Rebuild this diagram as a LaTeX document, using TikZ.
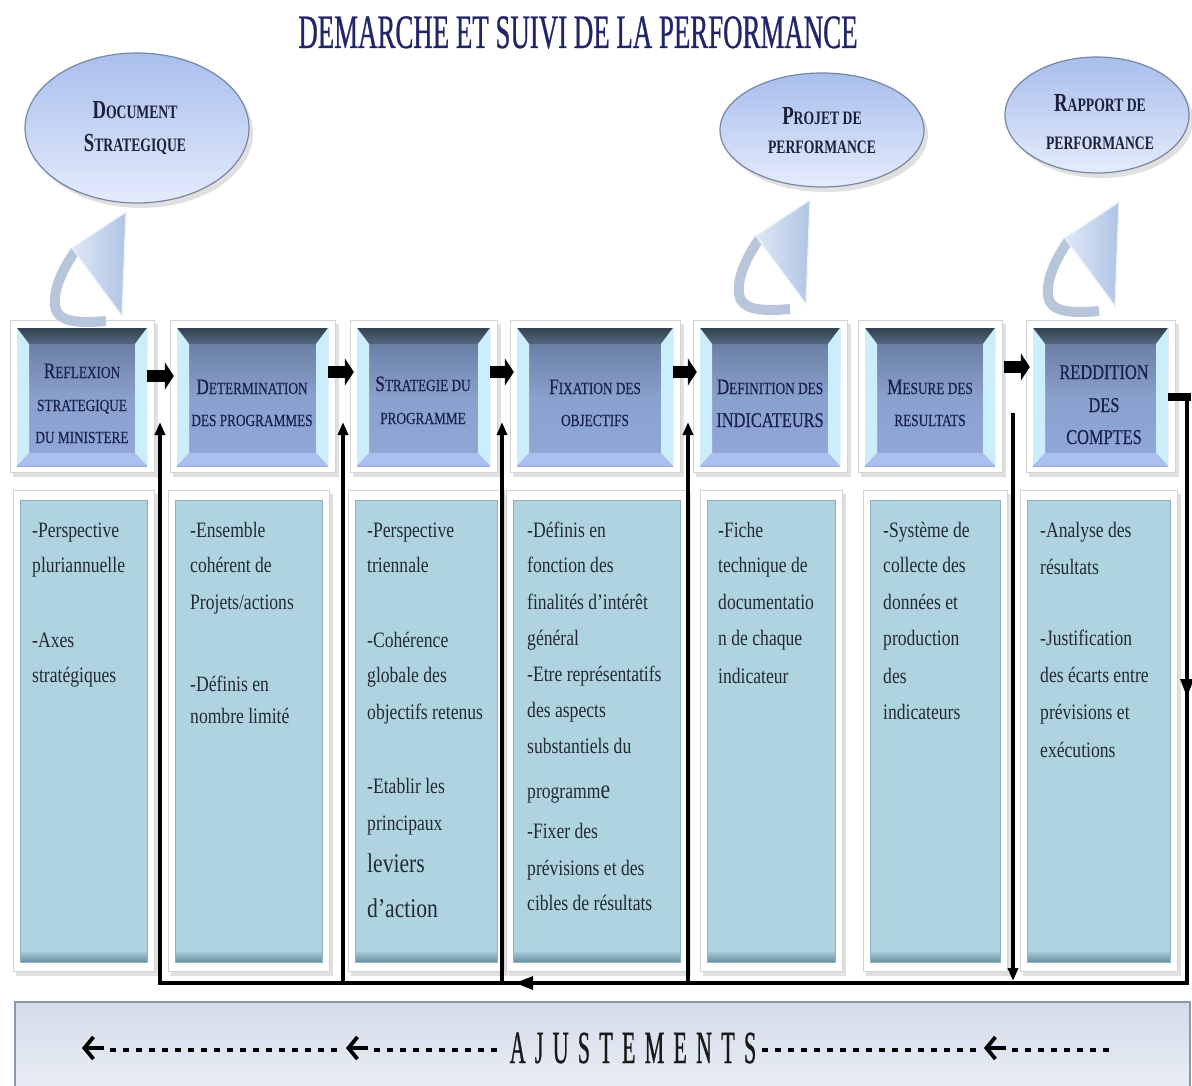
\documentclass[tikz,border=0pt]{standalone}
\usepackage{fontspec}
\setmainfont{Liberation Serif}
\newfontfamily\titlefont[FakeStretch=0.56,FakeBold=0.6]{Liberation Serif}
\newfontfamily\hdfont[FakeStretch=0.78,FakeBold=0.3]{Liberation Serif}
\newfontfamily\elfont[FakeStretch=0.72]{Liberation Serif}
\newfontfamily\bodyfont[FakeStretch=0.8]{Liberation Serif}
\newfontfamily\ajfont[FakeStretch=0.48,LetterSpace=20,FakeBold=0.6]{Liberation Serif}
\usetikzlibrary{arrows.meta,shapes.geometric}

\definecolor{titlec}{RGB}{34,38,104}
\definecolor{hdtext}{RGB}{24,32,76}
\definecolor{eltext}{RGB}{28,32,56}
\definecolor{bodytext}{RGB}{34,42,52}
\definecolor{elTop}{RGB}{168,190,236}
\definecolor{elBot}{RGB}{228,235,252}
\definecolor{elEdge}{RGB}{120,134,165}
\definecolor{tailL}{RGB}{222,232,246}
\definecolor{tailR}{RGB}{176,196,228}
\definecolor{tailEdge}{RGB}{236,242,250}
\definecolor{ribbonc}{RGB}{184,198,220}
\definecolor{hbTopA}{RGB}{52,66,80}
\definecolor{hbTopB}{RGB}{84,104,128}
\definecolor{hfTop}{RGB}{98,118,152}
\definecolor{hfMid}{RGB}{138,160,205}
\definecolor{hfBot}{RGB}{146,168,216}
\definecolor{hside}{RGB}{204,238,250}
\definecolor{hbot}{RGB}{172,192,240}
\definecolor{bodyc}{RGB}{176,212,223}
\definecolor{bodyd}{RGB}{104,144,160}
\definecolor{bodyedge}{RGB}{140,178,192}
\definecolor{framec}{RGB}{212,212,212}
\definecolor{shadowc}{RGB}{224,224,224}
\definecolor{bandTop}{RGB}{212,220,233}
\definecolor{bandBot}{RGB}{236,240,247}
\definecolor{bandEdge}{RGB}{138,152,172}

% small-caps look built from two sizes
\newcommand\hcap[1]{{\fontsize{22}{22}\selectfont #1}}
\newcommand\hbig[1]{{\fontsize{21}{21}\selectfont #1}}
\newcommand\hsm[1]{{\fontsize{17}{17}\selectfont #1}}
\newcommand\ecap[1]{{\fontsize{26}{26}\selectfont #1}}
\newcommand\esm[1]{{\fontsize{19}{19}\selectfont #1}}

\tikzset{
  hdline/.style={font=\hdfont, text=hdtext, inner sep=0pt, anchor=base},
  bodyline/.style={font=\bodyfont\fontsize{22}{22}\selectfont, text=bodytext, inner sep=0pt, anchor=base west},
  elline/.style={font=\elfont\bfseries, text=eltext, inner sep=0pt, anchor=base},
  elnode/.style={ellipse, inner sep=0pt, draw=elEdge, line width=1.2pt, top color=elTop, bottom color=elBot},
  fat/.style={line width=12pt, -{Triangle[width=27pt,length=9pt]}, shorten >=3pt},
  fbline/.style={line width=3.2pt, line join=miter},
  fbtip/.style={-{Triangle[width=10pt,length=13pt]}},
  bigtip/.style={-{Triangle[width=13pt,length=18pt]}},
  ajdash/.style={line width=3.6pt, dash pattern=on 6pt off 7pt},
  ajarrow/.style={line width=3.8pt, -{Straight Barb[length=9pt,width=22pt]}},
}

% header box with bevelled face: name, left x, right x
\newcommand\headbox[3]{%
  \fill[shadowc] (#2-4,324) rectangle (#3+11,477);
  \fill[white] (#2-7,320) rectangle (#3+7,472);
  \draw[framec, line width=0.8pt] (#2-7,320) rectangle (#3+7,472);
  \shade[top color=hfTop, bottom color=hfBot, middle color=hfMid] (#2,328) rectangle (#3,466);
  \shade[top color=hbTopA, bottom color=hbTopB] (#2,328) -- (#3,328) -- (#3-12,344) -- (#2+12,344) -- cycle;
  \fill[hside] (#2,328) -- (#2+12,344) -- (#2+12,453) -- (#2,466) -- cycle;
  \fill[hside] (#3,328) -- (#3-12,344) -- (#3-12,453) -- (#3,466) -- cycle;
  \fill[hbot] (#2,466) -- (#3,466) -- (#3-12,453) -- (#2+12,453) -- cycle;
  \node[inner sep=0pt, minimum width={#3pt-#2pt}, minimum height=138pt] (#1) at ({(#2+#3)/2},397) {};
}

% body box: name, left x, right x
\newcommand\bodybox[3]{%
  \fill[shadowc] (#2-4,494) rectangle (#3+11,976);
  \fill[white] (#2-7,490) rectangle (#3+7,971);
  \draw[framec, line width=0.8pt] (#2-7,490) rectangle (#3+7,971);
  \fill[bodyc] (#2,500) rectangle (#3,962);
  \shade[top color=bodyc, bottom color=bodyd] (#2,950) rectangle (#3,962);
  \draw[bodyedge, line width=0.8pt] (#2,500) rectangle (#3,962);
  \node[inner sep=0pt, minimum width={#3pt-#2pt}, minimum height=462pt] (#1) at ({(#2+#3)/2},731) {};
}

% curled callout tail, shifted from its base position
\newcommand\calltail[2]{%
  \begin{scope}[shift={(#1,#2)}]
    \draw[ribbonc, line width=10pt] (76,250) .. controls (60,272) and (50,298) .. (57,312)
      .. controls (63,323) and (85,323) .. (106,321);
    \shade[left color=tailL, right color=tailR, draw=tailEdge, line width=1.2pt]
      (126,212) -- (72,248) -- (122,316) -- cycle;
  \end{scope}}

\newcommand\bl[4]{\node[bodyline] (#1) at (#2,#3) {#4};}
\newcommand\hl[4]{\node[hdline] (#1) at (#2,#3) {#4};}

\begin{document}
\begin{tikzpicture}[x=1pt,y=-1pt]
\useasboundingbox (0,0) rectangle (1192,1086);
\fill[white] (0,0) rectangle (1192,1086);

% title
\node[font=\titlefont\fontsize{48}{48}\selectfont, text=titlec, inner sep=0pt, anchor=base]
  (title) at (578,48) {DEMARCHE ET SUIVI DE LA PERFORMANCE};

% callout bubbles
\fill[shadowc] (141,133) ellipse [x radius=112pt, y radius=75pt];
\node[elnode, minimum width=224pt, minimum height=150pt] (e1) at (137,128) {};
\fill[shadowc] (826,135) ellipse [x radius=102pt, y radius=57pt];
\node[elnode, minimum width=204pt, minimum height=114pt] (e2) at (822,130) {};
\fill[shadowc] (1101,120) ellipse [x radius=92pt, y radius=58pt];
\node[elnode, minimum width=184pt, minimum height=116pt] (e3) at (1097,115) {};

\node[elline] (e1a) at (135,119) {\ecap{D}\esm{OCUMENT}};
\node[elline] (e1b) at (135,152) {\ecap{S}\esm{TRATEGIQUE}};
\node[elline] (e2a) at (822,125) {\ecap{P}\esm{ROJET DE}};
\node[elline] (e2b) at (822,154) {\esm{PERFORMANCE}};
\node[elline] (e3a) at (1100,112) {\ecap{R}\esm{APPORT DE}};
\node[elline] (e3b) at (1100,150) {\esm{PERFORMANCE}};

% column boxes
\headbox{h1}{17}{147}
\headbox{h2}{177}{328}
\headbox{h3}{357}{490}
\headbox{h4}{517}{673}
\headbox{h5}{700}{840}
\headbox{h6}{865}{995}
\headbox{h7}{1033}{1168}

\bodybox{b1}{20}{147}
\bodybox{b2}{175}{322}
\bodybox{b3}{355}{497}
\bodybox{b4}{513}{680}
\bodybox{b5}{707}{835}
\bodybox{b6}{870}{1000}
\bodybox{b7}{1027}{1170}

% tails linking bubbles to their steps
\calltail{0}{0}
\calltail{684}{-12}
\calltail{993}{-10}

% header labels
\hl{h1a}{82}{378}{\hcap{R}\hsm{EFLEXION}}
\hl{h1b}{82}{411}{\hsm{STRATEGIQUE}}
\hl{h1c}{82}{443}{\hsm{DU MINISTERE}}
\hl{h2a}{252}{394}{\hcap{D}\hsm{ETERMINATION}}
\hl{h2b}{252}{426}{\hsm{DES PROGRAMMES}}
\hl{h3a}{423}{391}{\hcap{S}\hsm{TRATEGIE DU}}
\hl{h3b}{423}{424}{\hsm{PROGRAMME}}
\hl{h4a}{595}{394}{\hcap{F}\hsm{IXATION DES}}
\hl{h4b}{595}{426}{\hsm{OBJECTIFS}}
\hl{h5a}{770}{394}{\hcap{D}\hsm{EFINITION DES}}
\hl{h5b}{770}{427}{\hbig{INDICATEURS}}
\hl{h6a}{930}{394}{\hcap{M}\hsm{ESURE DES}}
\hl{h6b}{930}{426}{\hsm{RESULTATS}}
\hl{h7a}{1104}{379}{\hbig{REDDITION}}
\hl{h7b}{1104}{412}{\hbig{DES}}
\hl{h7c}{1104}{444}{\hbig{COMPTES}}

% body texts
\bl{t1a}{32}{537}{-Perspective}
\bl{t1b}{32}{572}{pluriannuelle}
\bl{t1c}{32}{647}{-Axes}
\bl{t1d}{32}{682}{stratégiques}

\bl{t2a}{190}{537}{-Ensemble}
\bl{t2b}{190}{572}{cohérent de}
\bl{t2c}{190}{609}{Projets/actions}
\bl{t2d}{190}{691}{-Définis en}
\bl{t2e}{190}{723}{nombre limité}

\bl{t3a}{367}{537}{-Perspective}
\bl{t3b}{367}{572}{triennale}
\bl{t3c}{367}{647}{-Cohérence}
\bl{t3d}{367}{682}{globale des}
\bl{t3e}{367}{719}{objectifs retenus}
\bl{t3f}{367}{793}{-Etablir les}
\bl{t3g}{367}{830}{principaux}
\bl{t3h}{367}{872}{\fontsize{27}{27}\selectfont leviers}
\bl{t3i}{367}{917}{\fontsize{27}{27}\selectfont d’action}

\bl{t4a}{527}{537}{-Définis en}
\bl{t4b}{527}{572}{fonction des}
\bl{t4c}{527}{609}{finalités d’intérêt}
\bl{t4d}{527}{645}{général}
\bl{t4e}{527}{681}{-Etre représentatifs}
\bl{t4f}{527}{717}{des aspects}
\bl{t4g}{527}{753}{substantiels du}
\bl{t4h}{527}{798}{programm{\fontsize{27}{27}\selectfont e}}
\bl{t4i}{527}{838}{-Fixer des}
\bl{t4j}{527}{875}{prévisions et des}
\bl{t4k}{527}{910}{cibles de résultats}

\bl{t5a}{718}{537}{-Fiche}
\bl{t5b}{718}{572}{technique de}
\bl{t5c}{718}{609}{documentatio}
\bl{t5d}{718}{645}{n de chaque}
\bl{t5e}{718}{683}{indicateur}

\bl{t6a}{883}{537}{-Système de}
\bl{t6b}{883}{572}{collecte des}
\bl{t6c}{883}{609}{données et}
\bl{t6d}{883}{645}{production}
\bl{t6e}{883}{683}{des}
\bl{t6f}{883}{719}{indicateurs}

\bl{t7a}{1040}{537}{-Analyse des}
\bl{t7b}{1040}{574}{résultats}
\bl{t7c}{1040}{645}{-Justification}
\bl{t7d}{1040}{682}{des écarts entre}
\bl{t7e}{1040}{719}{prévisions et}
\bl{t7f}{1040}{757}{exécutions}

% step-to-step arrows
\draw[fat] ([yshift=21pt]h1.east) -- ([yshift=21pt]h2.west);
\draw[fat] ([yshift=25pt]h2.east) -- ([yshift=25pt]h3.west);
\draw[fat] ([yshift=25pt]h3.east) -- ([yshift=25pt]h4.west);
\draw[fat] ([yshift=25pt]h4.east) -- ([yshift=25pt]h5.west);
\draw[fat, shorten <=9pt] ([yshift=30pt]h6.east) -- ([yshift=30pt]h7.west);

% feedback loop
\coordinate (rstub) at (1191,397);
\coordinate (rc) at (1187,397);
\coordinate (rm) at (1187,697);
\coordinate (br) at (1187,983);
\coordinate (bm) at (515,983);
\coordinate (bl1) at (160,983);
\coordinate (up1) at (160,422);
\coordinate (bl2) at (343,983);
\coordinate (up2) at (343,422);
\coordinate (bl3) at (502,983);
\coordinate (up3) at (502,422);
\coordinate (bl4) at (688,983);
\coordinate (up4) at (688,422);
\coordinate (dn1) at (1013,413);
\coordinate (dn2) at (1013,981);

\draw[line width=8pt] (h7.east) -- (rstub);
\draw[fbline, fbtip] (rc) -- (br) -- (bl1) -- (up1);
\draw[fbline, bigtip] (rc) -- (rm);
\draw[fbline, bigtip] (br) -- (bm);
\draw[fbline, fbtip] (bl2) -- (up2);
\draw[fbline, fbtip] (bl3) -- (up3);
\draw[fbline, fbtip] (bl4) -- (up4);
\draw[fbline, fbtip] (dn1) -- (dn2);

% adjustment band
\node[draw=bandEdge, line width=1.5pt, top color=bandTop, bottom color=bandBot,
      minimum width=1175pt, minimum height=100pt, inner sep=0pt] (band) at (602.5,1052) {};
\node[font=\ajfont\fontsize{46}{46}\selectfont, text=black!90, inner sep=0pt, anchor=base]
  (aj) at (633,1063) {AJUSTEMENTS};

\coordinate (a1h) at (82,1048);   \coordinate (a1t) at (104,1048);
\coordinate (a2h) at (346,1048);  \coordinate (a2t) at (368,1048);
\coordinate (a3h) at (984,1048);  \coordinate (a3t) at (1006,1048);
\coordinate (d1s) at (110,1050);  \coordinate (d1e) at (342,1050);
\coordinate (d2s) at (374,1050);  \coordinate (d2e) at (502,1050);
\coordinate (d3s) at (762,1050);  \coordinate (d3e) at (980,1050);
\coordinate (d4s) at (1012,1050); \coordinate (d4e) at (1115,1050);

\draw[ajarrow] (a1t) -- (a1h);
\draw[ajarrow] (a2t) -- (a2h);
\draw[ajarrow] (a3t) -- (a3h);
\draw[ajdash] (d1s) -- (d1e);
\draw[ajdash] (d2s) -- (d2e);
\draw[ajdash] (d3s) -- (d3e);
\draw[ajdash] (d4s) -- (d4e);
\end{tikzpicture}
\end{document}
